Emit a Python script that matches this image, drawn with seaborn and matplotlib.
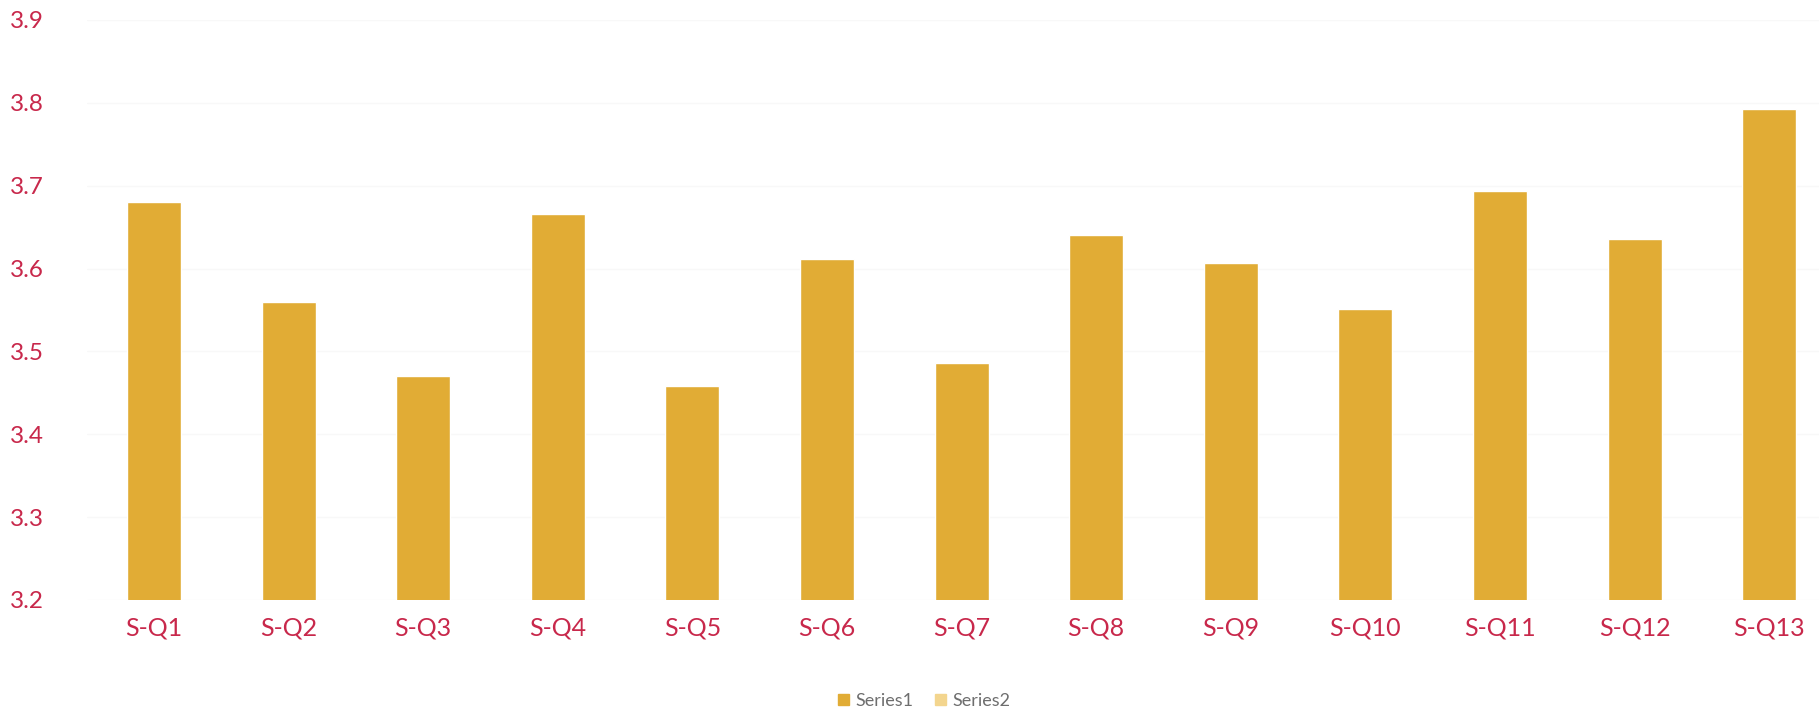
import matplotlib
matplotlib.use("Agg")
import matplotlib.pyplot as plt
from matplotlib.patches import Patch
import seaborn as sns
import pandas as pd

categories = ["S-Q1", "S-Q2", "S-Q3", "S-Q4", "S-Q5", "S-Q6", "S-Q7",
              "S-Q8", "S-Q9", "S-Q10", "S-Q11", "S-Q12", "S-Q13"]
series1 = [3.68, 3.56, 3.47, 3.666, 3.458, 3.612, 3.486,
           3.64, 3.607, 3.551, 3.694, 3.636, 3.792]
series_names = ["Series1", "Series2"]
y_ticks = [3.2, 3.3, 3.4, 3.5, 3.6, 3.7, 3.8, 3.9]

gold = "#E1AC35"
light_gold = "#F3D58E"
label_red = "#C8284B"

sns.set_theme(style="white")
plt.rcParams["font.family"] = ["Lato", "DejaVu Sans"]

df = pd.DataFrame({"question": categories, "score": series1})

fig = plt.figure(figsize=(18.19, 7.10), dpi=100)
ax = fig.add_axes([86.7 / 1819, 110 / 710, 1 - 86.7 / 1819, 580 / 710])

sns.barplot(data=df, x="question", y="score", color=gold, width=0.4,
            saturation=1, ax=ax, bottom=0)

ax.set_ylim(3.2, 3.9)
ax.set_xlim(-0.5, 12.37)
ax.set_yticks(y_ticks)
ax.set_yticklabels([f"{t:.1f}" for t in y_ticks])
ax.yaxis.grid(True, color="#F8F8F8", linewidth=1)
ax.set_axisbelow(True)
ax.set_xlabel("")
ax.set_ylabel("")
for side in ["top", "right", "left", "bottom"]:
    ax.spines[side].set_visible(False)
ax.tick_params(axis="y", colors=label_red, labelsize=17.5, length=0, pad=31)
ax.tick_params(axis="x", colors=label_red, labelsize=18, length=0, pad=12)

handles = [Patch(color=gold), Patch(color=light_gold)]
fig.legend(handles, series_names, loc="center", bbox_to_anchor=(924 / 1819, 1 - 701 / 710),
           ncol=2, frameon=False, fontsize=13, labelcolor="#6E6E6E",
           handlelength=0.6, handleheight=0.6, handletextpad=0.35, columnspacing=1.2)

fig.savefig("out.png", dpi=100, facecolor="white")
